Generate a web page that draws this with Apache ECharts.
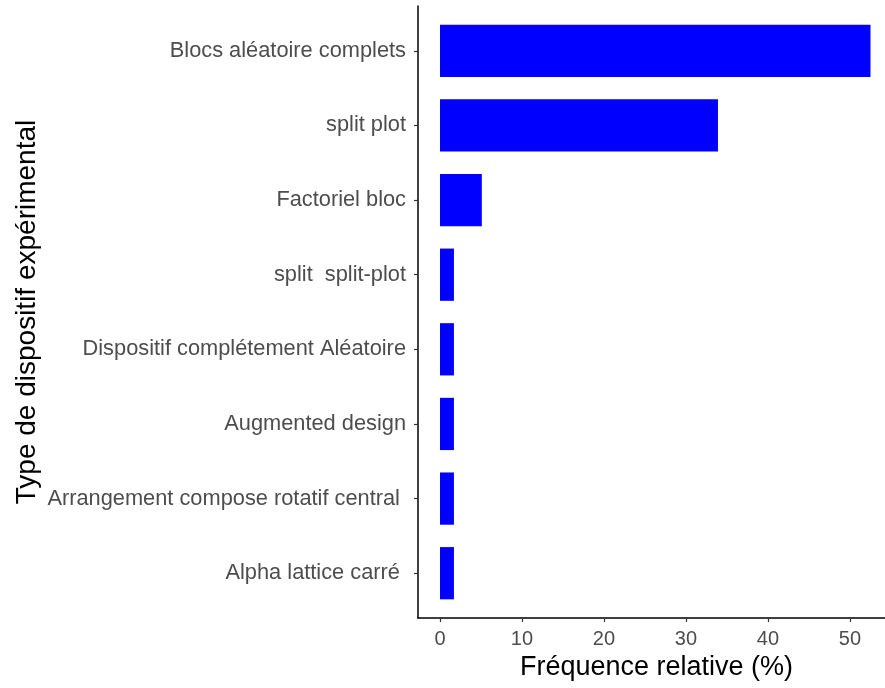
<!DOCTYPE html>
<html>
<head>
<meta charset="utf-8">
<script src="https://cdn.jsdelivr.net/npm/echarts@6/dist/echarts.min.js"></script>
<style>html,body{margin:0;padding:0;background:#fff}#c{width:885px;height:688px}</style>
</head>
<body>
<div id="c"></div>
<script>
const categories = [
  "Blocs aléatoire complets",
  "split plot",
  "Factoriel bloc",
  "split  split-plot",
  "Dispositif complétement Aléatoire",
  "Augmented design",
  "Arrangement compose rotatif central ",
  "Alpha lattice carré "
];
const values = [52.5, 33.9, 5.1, 1.7, 1.7, 1.7, 1.7, 1.7];
const xTicks = [0, 10, 20, 30, 40, 50];
const yTicks = [1, 2, 3, 4, 5, 6, 7, 8];

const chart = echarts.init(document.getElementById('c'), null, {renderer: 'canvas'});
const fontFam = "'Liberation Sans', Arial, sans-serif";
chart.setOption({
  animation: false,
  grid: {left: 418, right: 0, top: 6, bottom: 70, containLabel: false, outerBoundsMode: 'none'},
  xAxis: {
    type: 'value', min: -2.683, max: 54.27,
    name: 'Fréquence relative (%)', nameLocation: 'middle', nameGap: 36, nameMoveOverlap: false,
    nameTextStyle: {color: '#000', fontSize: 27, fontFamily: fontFam, padding: [0, 0, 0, 10]},
    axisLine: {show: true, onZero: false, lineStyle: {color: '#000', width: 1.5}},
    axisTick: {show: true, length: 4, customValues: xTicks, lineStyle: {color: '#333', width: 1.2}},
    axisLabel: {customValues: xTicks, color: '#4d4d4d', fontSize: 20, fontFamily: fontFam, margin: 11},
    splitLine: {show: false}
  },
  yAxis: {
    type: 'value', min: 0.4, max: 8.6, inverse: true,
    name: 'Type de dispositif expérimental', nameLocation: 'middle', nameGap: 377, nameMoveOverlap: false,
    nameRotate: 90,
    nameTextStyle: {color: '#000', fontSize: 28, fontFamily: fontFam},
    axisLine: {show: true, onZero: false, lineStyle: {color: '#000', width: 1.5}},
    axisTick: {show: true, length: 4, customValues: yTicks, lineStyle: {color: '#333', width: 1.2}},
    axisLabel: {customValues: yTicks, color: '#4d4d4d', fontSize: 21.8, fontFamily: fontFam, margin: 12,
      formatter: v => categories[Math.round(v) - 1]},
    splitLine: {show: false}
  },
  series: [{
    type: 'custom',
    data: values.map((v, i) => [v, i + 1]),
    renderItem: function (params, api) {
      const v = api.value(0), c = api.value(1);
      const p0 = api.coord([0, c - 0.35]);
      const p1 = api.coord([v, c + 0.35]);
      return {
        type: 'rect',
        shape: {x: p0[0], y: Math.min(p0[1], p1[1]), width: p1[0] - p0[0], height: Math.abs(p1[1] - p0[1])},
        style: {fill: '#0000ff'}
      };
    }
  }]
});
</script>
</body>
</html>
